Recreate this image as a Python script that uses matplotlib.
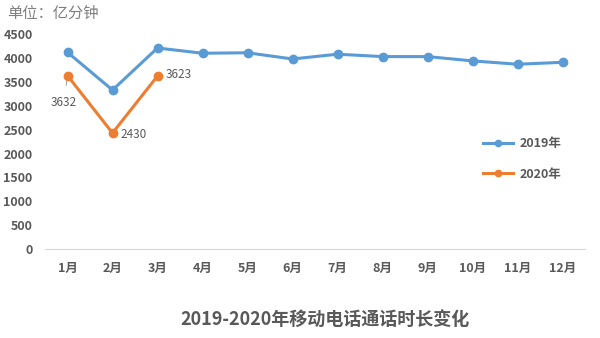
import matplotlib.pyplot as plt

plt.rcParams['font.family'] = ['Noto Sans CJK SC', 'DejaVu Sans']

months = ['1月', '2月', '3月', '4月', '5月', '6月', '7月', '8月', '9月', '10月', '11月', '12月']
calls_2019 = [4120, 3330, 4210, 4100, 4110, 3980, 4080, 4030, 4030, 3940, 3870, 3910]
calls_2020 = [3632, 2430, 3623]
yticks = [0, 500, 1000, 1500, 2000, 2500, 3000, 3500, 4000, 4500]

blue = '#5B9BD5'
orange = '#ED7D31'
grey = '#595959'

fig = plt.figure(figsize=(6, 3.38), dpi=100)
ax = fig.add_axes([0.075, 0.263, 0.9, 0.636])

x19 = range(len(calls_2019))
x20 = range(len(calls_2020))
ax.plot(x19, calls_2019, color=blue, lw=2.2, marker='o', ms=6, label='2019年')
ax.plot(x20, calls_2020, color=orange, lw=2.2, marker='o', ms=6, label='2020年')

# data labels for 2020
ax.annotate(str(calls_2020[0]), xy=(0, calls_2020[0]), xytext=(-0.08, 3060),
            ha='center', va='center', fontsize=8.5, color=grey,
            arrowprops=dict(arrowstyle='-', color='#A6A6A6', lw=0.8,
                            shrinkA=6, shrinkB=4))
ax.text(1.18, calls_2020[1] - 40, str(calls_2020[1]), ha='left', va='center',
        fontsize=8.5, color=grey)
ax.text(2.18, calls_2020[2] + 40, str(calls_2020[2]), ha='left', va='center',
        fontsize=8.5, color=grey)

ax.set_xlim(-0.5, len(months) - 0.5)
ax.set_ylim(0, 4500)
ax.set_yticks(yticks)
ax.set_xticks(list(x19))
ax.set_xticklabels(months)
for lbl in ax.get_yticklabels() + ax.get_xticklabels():
    lbl.set_fontweight('bold')
    lbl.set_color(grey)
    lbl.set_fontsize(9)
ax.tick_params(axis='both', length=0)
ax.tick_params(axis='x', pad=9)
ax.tick_params(axis='y', pad=9)

for s in ['top', 'right', 'left']:
    ax.spines[s].set_visible(False)
ax.spines['bottom'].set_color('#D9D9D9')

leg = ax.legend(loc='center left', bbox_to_anchor=(0.79, 0.42), frameon=False,
                labelspacing=1.4, handlelength=2.4, handletextpad=0.5, markerscale=0.75,
                prop={'size': 9, 'weight': 'bold'})
for t in leg.get_texts():
    t.set_color(grey)

fig.text(0.012, 0.962, '单位：亿分钟', fontsize=11, color='#7F7F7F', va='center')
fig.text(0.542, 0.053, '2019-2020年移动电话通话时长变化', fontsize=13, fontweight='bold',
         color=grey, ha='center', va='center')

fig.savefig('out.png', dpi=100)
